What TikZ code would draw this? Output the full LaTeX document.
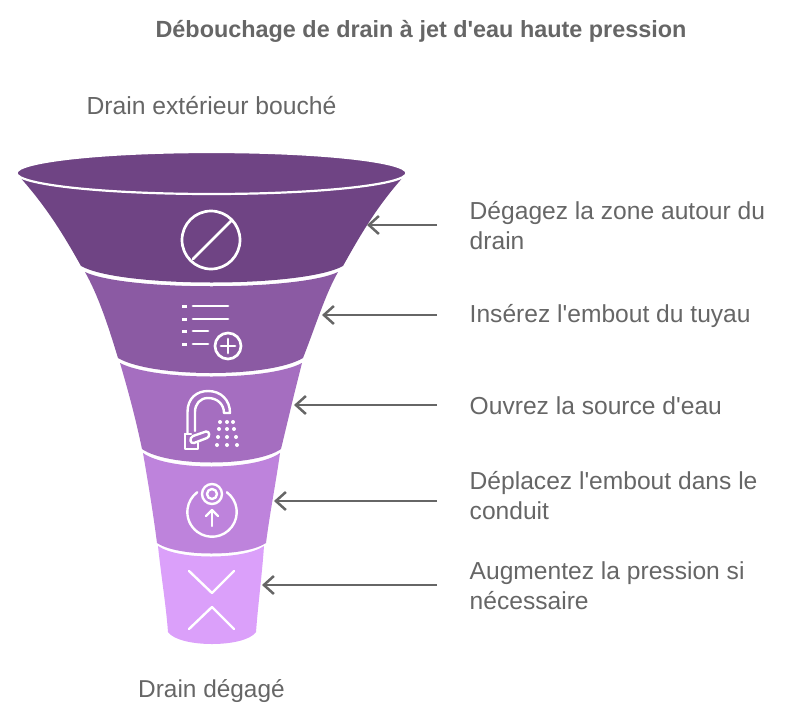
\documentclass[tikz,border=0pt]{standalone}
\usepackage{fontspec}
\setmainfont[Ligatures=TeXOff]{Liberation Sans}
\usetikzlibrary{arrows.meta}
\definecolor{txtgray}{HTML}{666666}
\definecolor{arrowgray}{HTML}{666666}
\definecolor{segA}{HTML}{6F4484}
\definecolor{segB}{HTML}{8B5AA3}
\definecolor{segC}{HTML}{A56EC0}
\definecolor{segD}{HTML}{BE83DC}
\definecolor{segE}{HTML}{DBA0FA}
\tikzset{
  x=1pt,y=-1pt,
  label text/.style={font=\fontsize{24.6}{30}\selectfont,text=txtgray,anchor=west,align=left,inner sep=0pt},
  cap text/.style={font=\fontsize{24.7}{30}\selectfont,text=txtgray,inner sep=0pt},
  capb text/.style={font=\fontsize{24.4}{30}\selectfont,text=txtgray,inner sep=0pt},
  title text/.style={font=\fontsize{23.4}{30}\selectfont\bfseries,text=txtgray,inner sep=0pt},
  pointer/.style={draw=arrowgray,line width=2.5pt,-{Straight Barb[length=10pt,width=18pt,line width=2.5pt]}},
  icon/.style={draw=white,line width=2.7pt,line cap=round,line join=round},
  thinicon/.style={draw=white,line width=2.4pt,line cap=round,line join=round}
}
\begin{document}
\begin{tikzpicture}
\useasboundingbox (0,0) rectangle (797,720);
% funnel segments
\fill[segA] (18,175) .. controls (45,205) and (62,232) .. (81,266)
  .. controls (120,288) and (303,288) .. (343,266)
  .. controls (362,232) and (378,205) .. (405,175) -- cycle;
\fill[segB] (85,272) .. controls (125,291) and (298,291) .. (338,272)
  .. controls (325,295) and (316,325) .. (303,358)
  .. controls (270,378) and (152,378) .. (118,358)
  .. controls (108,325) and (98,295) .. (85,272) -- cycle;
\fill[segC] (120,363) .. controls (155,381) and (268,381) .. (302,363)
  .. controls (295,390) and (288,420) .. (281,449)
  .. controls (255,467) and (168,467) .. (142,449)
  .. controls (136,420) and (128,390) .. (120,363) -- cycle;
\fill[segD] (143,453) .. controls (168,471) and (255,471) .. (280,453)
  .. controls (276,482) and (270,512) .. (266,543)
  .. controls (245,557) and (178,557) .. (157,543)
  .. controls (153,512) and (148,482) .. (143,453) -- cycle;
\fill[segE] (158,546) .. controls (178,560) and (244,560) .. (264,546)
  .. controls (262,575) and (258,605) .. (256,632)
  .. controls (245,648) and (179,648) .. (168,632)
  .. controls (166,605) and (161,575) .. (158,546) -- cycle;
\filldraw[fill=segA,draw=white,line width=2.2pt] (211.5,173) ellipse [x radius=195pt,y radius=21pt];
% icon 1
\draw[icon] (211,240) circle[radius=29pt];
\draw[icon] (193,259) -- (231,221);
% icon 2
\foreach \yy in {306,319,331,344}{\draw[draw=white,line width=3pt] (182,\yy) -- (187,\yy);}
\draw[icon] (193,306) -- (228,306);
\draw[icon] (193,319) -- (228,319);
\draw[icon] (193,331) -- (208,331);
\draw[icon] (193,344) -- (208,344);
\draw[icon] (228,346) circle[radius=13pt];
\draw[icon] (221,346) -- (235,346);
\draw[icon] (228,339) -- (228,353);
% icon 3
\draw[thinicon] (187.5,433) -- (187.5,412) .. controls (187.5,398) and (197,391) .. (208,391)
  .. controls (221,391) and (230,400) .. (230,413) -- (224,413)
  .. controls (224,404) and (217,398) .. (208,398)
  .. controls (200,398) and (195,404) .. (195,412) -- (195,431);
\draw[thinicon] (185,434) -- (185,449) -- (198,449) -- (198,443);
\draw[thinicon] (185,434) -- (191,434);
\draw[thinicon] (193,436) -- (206,431.5) .. controls (210,431) and (210,437) .. (207,438) -- (194,443) .. controls (190,444) and (189,438) .. (193,436) -- cycle;
\foreach \dotx/\doty in {220/422,227/422,233/422,219/429,227/429,234/429,218/437,227/437,236/437,217/445,227/445,237/445}{
  \fill[white] (\dotx,\doty) circle[radius=2pt];}
% icon 4
\draw[thinicon] (212,494) circle[radius=10pt];
\draw[thinicon] (212,494) circle[radius=5pt];
\draw[thinicon] (226.9,492.3) arc[start angle=53,end angle=-233,radius=24.7pt];
\draw[thinicon] (212,526) -- (212,510);
\draw[thinicon] (206,516) -- (212,510) -- (218,516);
% icon 5
\draw[thinicon] (189,571) -- (212,593) -- (234,571);
\draw[thinicon] (189,629) -- (212,607) -- (234,629);
% texts
\node[title text] (title) at (421,31) {Débouchage de drain à jet d'eau haute pression};
\node[cap text] (top) at (211.5,106) {Drain extérieur bouché};
\node[capb text] (bottom) at (211.5,691) {Drain dégagé};
\node[label text] (t1) at (469.5,226) {Dégagez la zone autour du\\drain};
\node[label text] (t2) at (469.5,316) {Insérez l'embout du tuyau};
\node[label text] (t3) at (469.5,405.5) {Ouvrez la source d'eau};
\node[label text] (t4) at (469.5,496) {Déplacez l'embout dans le\\conduit};
\node[label text] (t5) at (469.5,586) {Augmentez la pression si\\nécessaire};
% connectors
\coordinate (s1) at (437,225); \coordinate (e1) at (367,225);
\coordinate (s2) at (437,315); \coordinate (e2) at (322,315);
\coordinate (s3) at (437,405); \coordinate (e3) at (294,405);
\coordinate (s4) at (437,501); \coordinate (e4) at (274,501);
\coordinate (s5) at (437,585); \coordinate (e5) at (262,585);
\draw[pointer] (s1) -- (e1);
\draw[pointer] (s2) -- (e2);
\draw[pointer] (s3) -- (e3);
\draw[pointer] (s4) -- (e4);
\draw[pointer] (s5) -- (e5);
\end{tikzpicture}
\end{document}
